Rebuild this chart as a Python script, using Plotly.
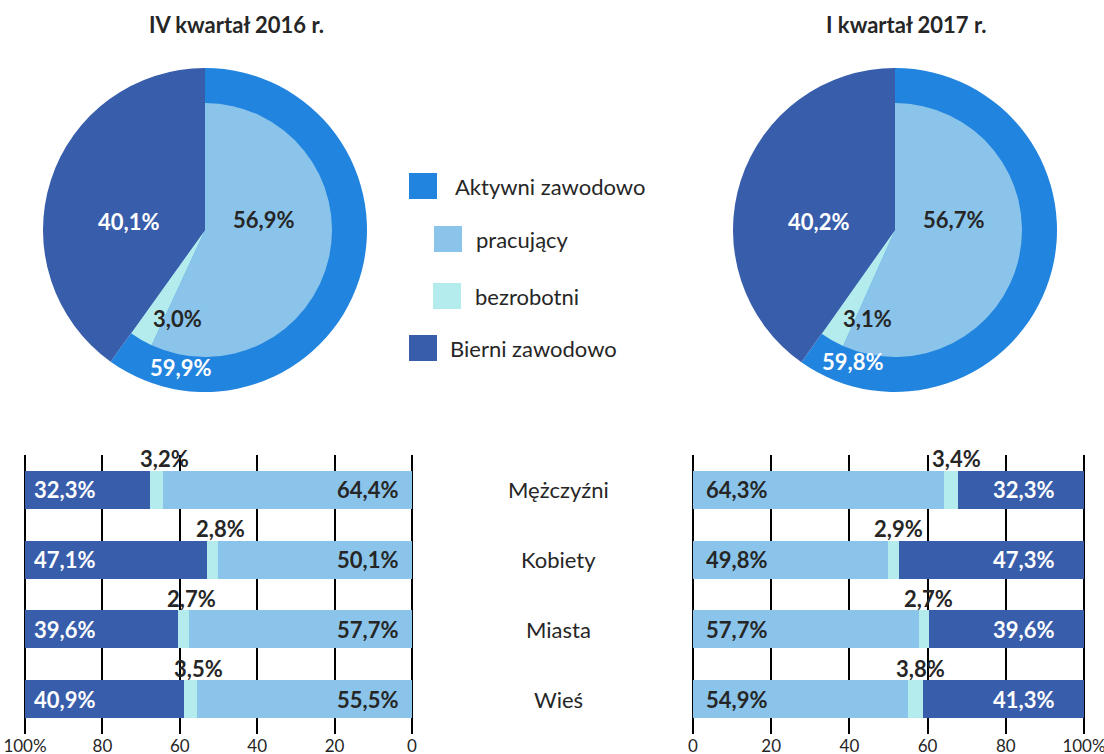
import plotly.graph_objects as go

# pie data (share of population 15+, %)
pie_titles = ["IV kwartał 2016 r.", "I kwartał 2017 r."]
aktywni = [59.9, 59.8]
pracujacy = [56.9, 56.7]
bezrobotni = [3.0, 3.1]
bierni = [40.1, 40.2]

# bar data by group
groups = ["Mężczyźni", "Kobiety", "Miasta", "Wieś"]
prac_2016 = [64.4, 50.1, 57.7, 55.5]
bezr_2016 = [3.2, 2.8, 2.7, 3.5]
bier_2016 = [32.3, 47.1, 39.6, 40.9]
prac_2017 = [64.3, 49.8, 57.7, 54.9]
bezr_2017 = [3.4, 2.9, 2.7, 3.8]
bier_2017 = [32.3, 47.3, 39.6, 41.3]

C_AKT = "#2184df"
C_PRAC = "#8ac4ea"
C_BEZR = "#b4ecee"
C_BIER = "#385dab"
TXT = "#262626"
FONT = "Lato"

W, H = 1104, 754


def px_x(p):
    return p / W


def px_y(p):
    return 1 - p / H


def fmt(v):
    return f"{v:.1f}%".replace(".", ",")


def label(text, x, y, size=22, color=TXT, **kw):
    d = dict(text=text, x=x, y=y, showarrow=False, xanchor="center", yanchor="middle",
             font=dict(size=size, color=color, family=FONT))
    d.update(kw)
    return d


fig = go.Figure()

# pies: outer ring (aktywni / bierni) + inner pie (pracujący / bezrobotni)
pie_cx = [205, 895]
pie_cy = 230
r_out, r_in = 162, 127
for i in range(2):
    cx = pie_cx[i]
    fig.add_trace(go.Pie(
        values=[aktywni[i], bierni[i]],
        marker=dict(colors=[C_AKT, C_BIER], line=dict(width=0)),
        sort=False, direction="clockwise", rotation=0,
        textinfo="none", hoverinfo="skip", showlegend=False,
        domain=dict(x=[px_x(cx - r_out), px_x(cx + r_out)],
                    y=[px_y(pie_cy + r_out), px_y(pie_cy - r_out)]),
    ))
    fig.add_trace(go.Pie(
        values=[pracujacy[i], bezrobotni[i], bierni[i]],
        marker=dict(colors=[C_PRAC, C_BEZR, C_BIER], line=dict(width=0)),
        sort=False, direction="clockwise", rotation=0,
        textinfo="none", hoverinfo="skip", showlegend=False,
        domain=dict(x=[px_x(cx - r_in), px_x(cx + r_in)],
                    y=[px_y(pie_cy + r_in), px_y(pie_cy - r_in)]),
    ))

# stacked bars
bar_sets = [
    ("x", "y", prac_2016, bezr_2016, bier_2016),
    ("x2", "y2", prac_2017, bezr_2017, bier_2017),
]
for xa, ya, pr, bz, bi in bar_sets:
    for vals, col in [(pr, C_PRAC), (bz, C_BEZR), (bi, C_BIER)]:
        fig.add_trace(go.Bar(
            x=vals, y=groups, orientation="h", xaxis=xa, yaxis=ya,
            marker=dict(color=col, line=dict(width=0)),
            hoverinfo="skip", showlegend=False,
        ))

ann = []

# pie titles
for t, cx in zip(pie_titles, [236, 906]):
    ann.append(label(f"<b>{t}</b>", px_x(cx), px_y(25), xref="paper", yref="paper"))

# pie labels (offsets from pie centre)
for i in range(2):
    cx = pie_cx[i]
    labels = [
        (fmt(bierni[i]), -77, -9, "white"),
        (fmt(pracujacy[i]), 58, -10, TXT),
        (fmt(bezrobotni[i]), -28, 88, TXT),
        (fmt(aktywni[i]), -25 if i == 0 else -43, 138 if i == 0 else 132, "white"),
    ]
    for txt, dx, dy, col in labels:
        ann.append(label(f"<b>{txt}</b>", px_x(cx + dx), px_y(pie_cy + dy), color=col,
                         xref="paper", yref="paper"))

# legend
legend_items = [
    ("Aktywni zawodowo", C_AKT, 409, 186, 453),
    ("pracujący", C_PRAC, 434, 239, 474),
    ("bezrobotni", C_BEZR, 433, 296, 473),
    ("Bierni zawodowo", C_BIER, 409, 348, 448),
]
shapes = []
for name, col, sx, sy, tx in legend_items:
    shapes.append(dict(type="rect", xref="paper", yref="paper",
                       x0=px_x(sx), x1=px_x(sx + 28), y0=px_y(sy + 13), y1=px_y(sy - 13),
                       fillcolor=col, line=dict(width=0)))
    ann.append(label(name, px_x(tx), px_y(sy), xref="paper", yref="paper", xanchor="left"))

# group labels between bar charts
for g in groups:
    ann.append(label(g, px_x(558), g, xref="paper", yref="y"))

# bar labels
for g, pr, bz, bi in zip(groups, prac_2016, bezr_2016, bier_2016):
    ann.append(label(f"<b>{fmt(pr)}</b>", 0, g, xref="x", yref="y", xanchor="right", xshift=-12))
    ann.append(label(f"<b>{fmt(bi)}</b>", 100, g, color="white", xref="x", yref="y",
                     xanchor="left", xshift=7))
    ann.append(label(f"<b>{fmt(bz)}</b>", pr + bz / 2, g, xref="x", yref="y",
                     xshift=8, yshift=31))
for g, pr, bz, bi in zip(groups, prac_2017, bezr_2017, bier_2017):
    ann.append(label(f"<b>{fmt(pr)}</b>", 0, g, xref="x2", yref="y2", xanchor="left", xshift=11))
    ann.append(label(f"<b>{fmt(bi)}</b>", 100, g, color="white", xref="x2", yref="y2",
                     xanchor="right", xshift=-28))
    ann.append(label(f"<b>{fmt(bz)}</b>", pr + bz / 2, g, xref="x2", yref="y2",
                     xshift=5, yshift=31))

tickvals = [0, 20, 40, 60, 80, 100]
ticktext = ["0", "20", "40", "60", "80", "100%"]
xcommon = dict(tickvals=tickvals, ticktext=ticktext, showgrid=True, gridcolor="black",
               gridwidth=2, zeroline=False, showline=False, ticks="", automargin=False,
               ticklabeloverflow="allow",
               tickfont=dict(size=17, color=TXT, family=FONT))
ycommon = dict(categoryorder="array", categoryarray=groups[::-1], showticklabels=False,
               showgrid=False, zeroline=False, range=[-0.5, 3.5], automargin=False)

# pad the value range a little so the 0 and 100 grid lines are drawn
pad = 0.5
lx0, lx1 = 25, 412
rx0, rx1 = 693, 1084
lpad = pad * (lx1 - lx0) / 100
rpad = pad * (rx1 - rx0) / 100

fig.update_layout(
    width=W, height=H,
    margin=dict(l=0, r=0, t=0, b=0),
    paper_bgcolor="white", plot_bgcolor="white",
    barmode="stack", bargap=0.455,
    xaxis=dict(domain=[px_x(lx0 - lpad), px_x(lx1 + lpad)], range=[100 + pad, -pad],
               anchor="y", **xcommon),
    yaxis=dict(domain=[px_y(734), px_y(455)], anchor="x", **ycommon),
    xaxis2=dict(domain=[px_x(rx0 - rpad), px_x(rx1 + rpad)], range=[-pad, 100 + pad],
                anchor="y2", **xcommon),
    yaxis2=dict(domain=[px_y(734), px_y(455)], anchor="x2", **ycommon),
    annotations=ann,
    shapes=shapes,
    font=dict(family=FONT, color=TXT),
)

fig.write_html("out.html", config={"displayModeBar": False},
               post_script="document.body.style.margin='0';")
